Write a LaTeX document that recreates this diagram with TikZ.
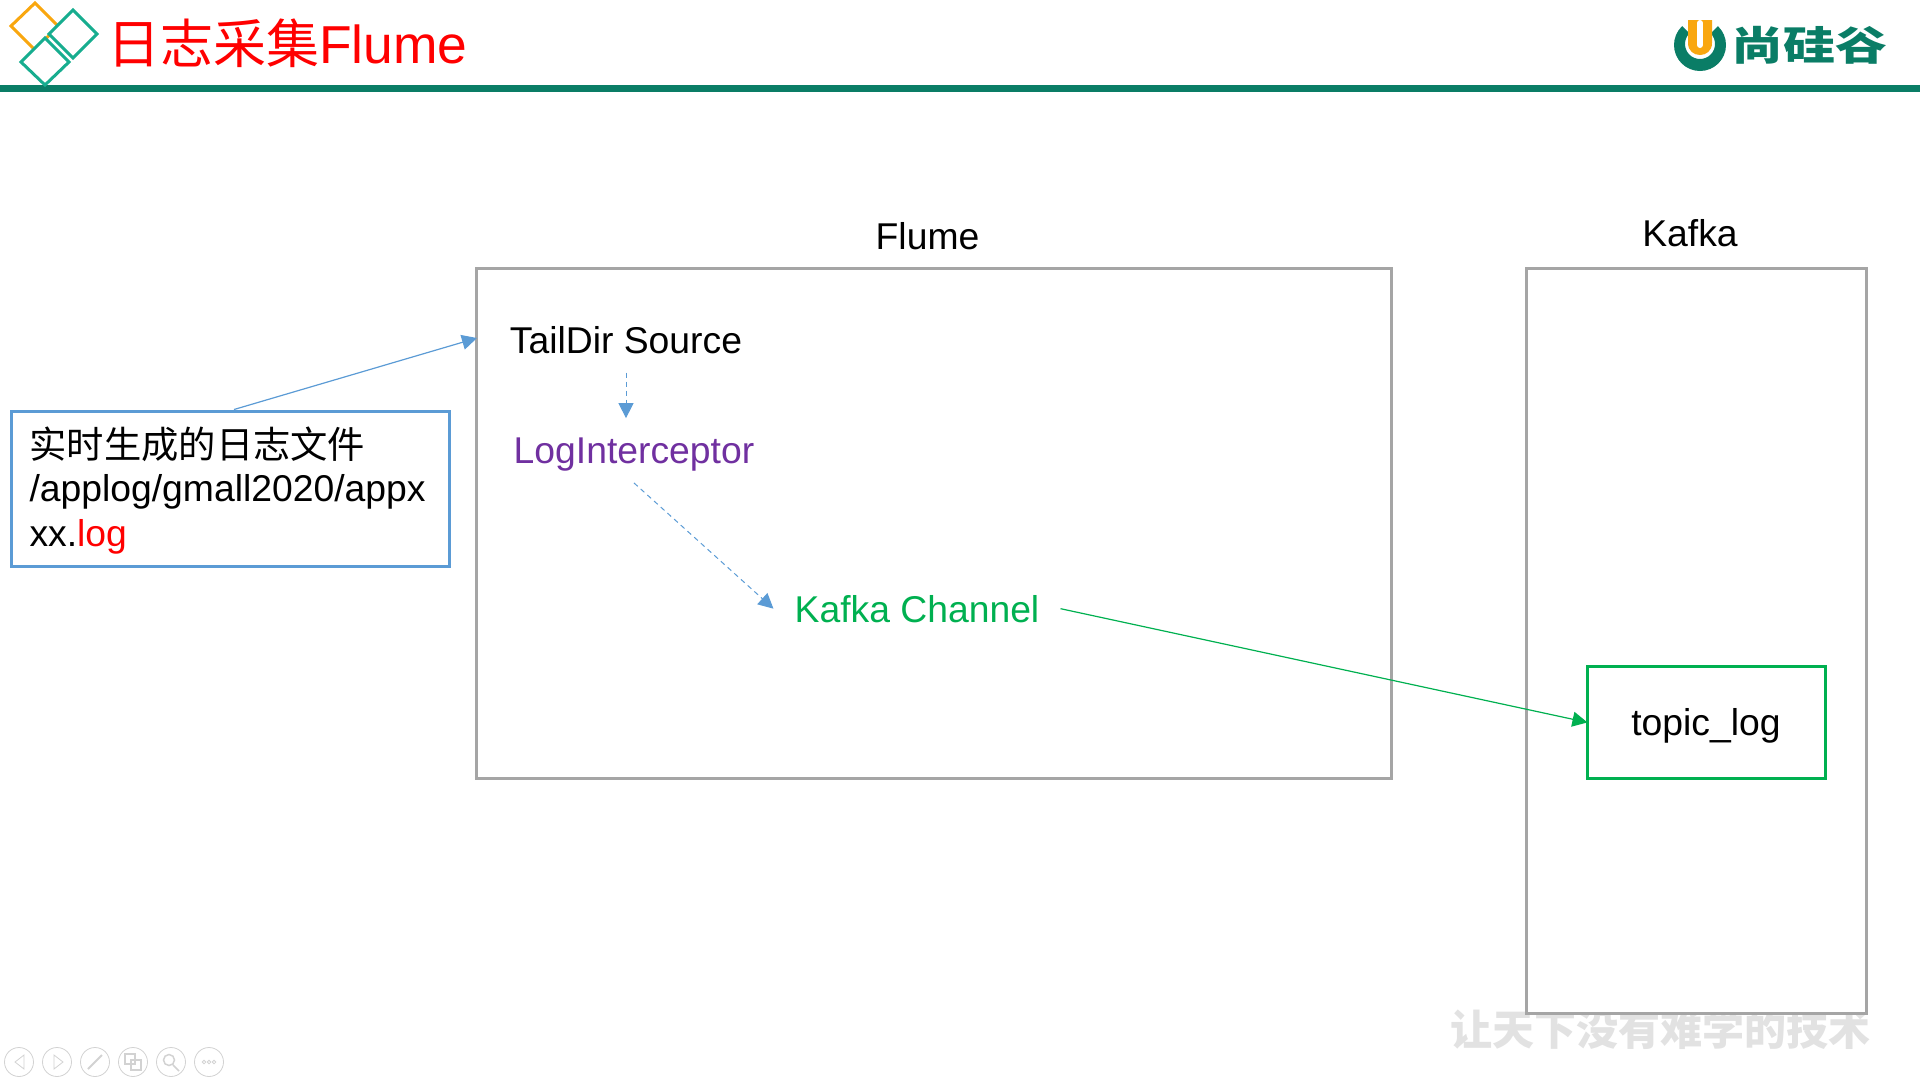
\documentclass[tikz,border=0pt]{standalone}
\usepackage{fontspec}
\setmainfont{Liberation Sans}
\newfontfamily\cjkfont{Noto Sans CJK SC}
\usetikzlibrary{arrows.meta}

\definecolor{boxgray}{HTML}{A5A5A5}
\definecolor{arrowblue}{HTML}{5B9BD5}
\definecolor{chgreen}{HTML}{00B050}
\definecolor{intpurple}{HTML}{7030A0}
\definecolor{headgreen}{HTML}{0A7D66}
\definecolor{diamteal}{HTML}{17AD8F}
\definecolor{diamorange}{HTML}{F9A70F}
\definecolor{markgray}{HTML}{E2E2E2}
\definecolor{icongray}{HTML}{D2D2D2}

\newcommand{\lowertext}[2]{\raisebox{-#1pt}[\height][\depth]{#2}}

\begin{document}
\begin{tikzpicture}[
                x = 1pt, y = -1pt, % reference pixels, y going down
                > = {Triangle[length=15pt,width=15pt]}, % arrow head style
                font = \fontsize{37.3}{45}\selectfont
            ]

            \tikzstyle{frame}=[draw = boxgray, line width = 3pt, inner sep = 0pt]
            \tikzstyle{word}=[anchor = base, inner xsep = 21pt, inner ysep = 19pt]
            \tikzstyle{plain}=[anchor = base, inner sep = 0pt]
            \tikzstyle{dashline}=[->, arrowblue, line width = 1pt, dash pattern = on 5pt off 4pt]
            \tikzstyle{diam}=[line width = 3pt, line join = miter]
            \tikzstyle{icon}=[draw = icongray, line width = 0.8pt]

            \useasboundingbox (0,0) rectangle (1920,1080);

            % header
            \fill[headgreen] (0,84.5) rectangle (1920,91.5);
            \draw[diam, diamorange] (35,3) -- (58,26) -- (35,50) -- (11,26) -- cycle;
            \draw[diam, diamteal, fill = white] (73,10) -- (97,34) -- (73,58) -- (49,34) -- cycle;
            \draw[diam, diamteal, fill = white] (45,38) -- (69,62) -- (45,85) -- (21,62) -- cycle;
            \node (title) [plain, anchor = base west, red, font = \fontsize{53.4}{60}\selectfont]
                at (107,63) {{\cjkfont\fontsize{53}{60}\selectfont 日志采集}Flume};

            % logo
            \begin{scope}
                \clip (1700,44) -- (1660,4) -- (1660,80) -- (1740,80) -- (1740,4) -- cycle;
                \fill[headgreen, even odd rule] (1700,45) circle [radius = 26pt] (1700,44) circle [radius = 15pt];
            \end{scope}
            \fill[diamorange] (1688,20) -- (1688,43) .. controls (1688,59) and (1712,59) .. (1712,43) -- (1712,20) -- cycle;
            \draw[white, line width = 6pt, line cap = round] (1700,23) -- (1700,45);
            \node (logo) [plain, headgreen, xscale = 1.3, font = \fontsize{40}{40}\cjkfont\bfseries] at (1809,60) {尚硅谷};

            % watermark
            \node (motto) [plain, markgray, font = \fontsize{42}{42}\cjkfont\bfseries] at (1660,1045) {让天下没有难学的技术};

            % boxes
            \node (flume) [frame, minimum width = 914.5pt, minimum height = 510pt] at (934,523) {};
            \node (kafka) [frame, fill = white, minimum width = 339.5pt, minimum height = 745pt] at (1696.25,640.5) {};
            \node (flumelabel) [plain] at (927.5,249) {Flume}; \node (kafkalabel) [plain] at (1690,246) {Kafka};
            \node (logbox) [draw = arrowblue, line width = 3pt, inner xsep = 18.5pt, inner ysep = 0pt,
            text width = 401pt, minimum height = 155pt, align = left] at (230,488.5)
                {\lowertext{2.7}{\cjkfont 实时生成的日志文件}\\\lowertext{1.2}{/applog/gmall2020/appx}\\\lowertext{1.2}{xx.\textcolor{red}{log}}};

            % flume parts
            \node (source) [word] at (626,353) {TailDir Source};
            \node (inter) [word, intpurple] at (634,463) {LogInterceptor};
            \node (channel) [word, chgreen] at (917,622) {Kafka Channel};
            \node (topic) [draw = chgreen, line width = 3pt, minimum width = 238pt, minimum height = 112pt,
            inner sep = 0pt] at (1706,722) {\lowertext{3.6}{topic\_log}};
            \coordinate (flumein) at (477,338);

            \draw[->, arrowblue, line width = 1.2pt] ([xshift = 4pt]logbox.north) -- (flumein);
            \draw[dashline] (source.south) -- (source.south |- inter.north);
            \draw[dashline] ([yshift = 7pt]inter.south) -- (channel.west);
            \draw[->, chgreen, line width = 1.2pt, shorten > = -2pt] (channel.east) -- (topic.west);

            % slide show buttons
            \foreach \i in {0,...,5} {
                \draw[icon] (19+38*\i,1062) circle [radius = 14.5pt];
            }
            \draw[icon] (24,1055) -- (15,1062) -- (24,1069) -- cycle;
            \draw[icon] (54,1055) -- (63,1062) -- (54,1069) -- cycle;
            \draw[icon, line width = 2pt] (88,1069) -- (102,1055);
            \draw[icon, line width = 1.5pt] (125,1054) rectangle (135,1064) (131,1060) rectangle (141,1070);
            \draw[icon, line width = 1.5pt] (169,1060) circle [radius = 5.5pt] (173,1065) -- (179,1071);
            \foreach \i in {204,209,214} {
                \draw[icon] (\i,1062) circle [radius = 1.8pt];
            }

        \end{tikzpicture}
\end{document}
